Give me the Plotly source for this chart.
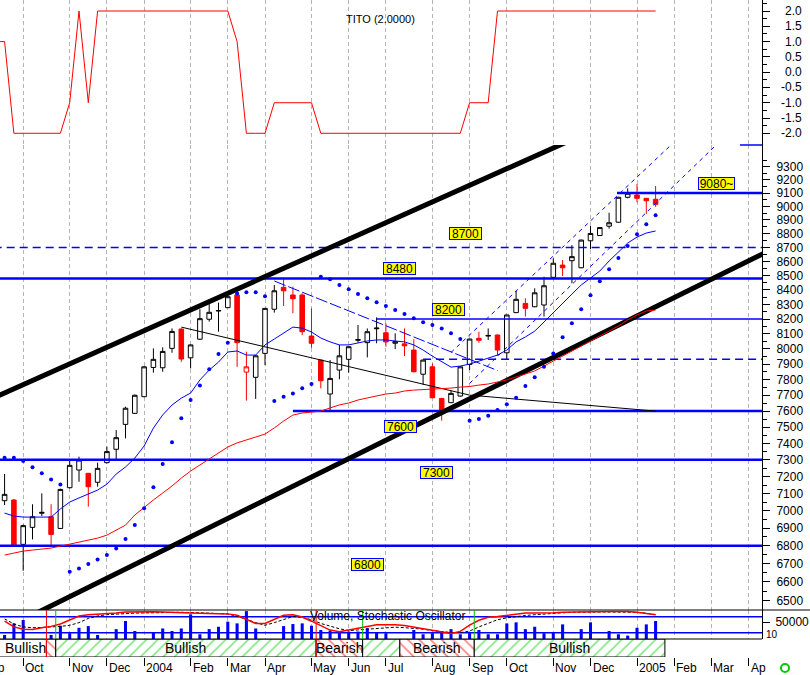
import math
import pandas as pd
import plotly.graph_objects as go

FONT = "Liberation Sans, Arial, Helvetica, sans-serif"

# ---------------- data ----------------
week_dates = pd.date_range("2003-09-19", periods=71, freq="7D")
tito_dates = pd.date_range("2003-09-12", periods=72, freq="7D")

opens = [7058, 7062, 6808, 6904, 6985, 6965, 6898, 7134, 7239, 7219,
         7166, 7283, 7364, 7517, 7586, 7691, 7879, 7877, 8004, 8133,
         7942, 8065, 8199, 8255, 8278, 8365, 7849, 7815, 7971, 8267,
         8418, 8365, 8365, 8086, 7927, 7708, 7862, 7932, 8058, 8042,
         8135, 8108, 8038, 8034, 7993, 7835, 7883, 7680, 7653, 7695,
         7898, 8071, 8086, 8093, 7975, 8244, 8307, 8284, 8296, 8488,
         8574, 8605, 8555, 8748, 8786, 8854, 8883, 9068, 9085, 9060, 9053]
highs = [7215, 7068, 6920, 7037, 7101, 7037, 7128, 7299, 7319, 7222,
         7283, 7380, 7482, 7628, 7705, 7888, 8004, 8011, 8137, 8137,
         8030, 8267, 8312, 8312, 8388, 8388, 7982, 7960, 8276, 8434,
         8474, 8422, 8377, 8273, 7930, 7927, 8027, 8018, 8160, 8137,
         8212, 8171, 8104, 8137, 8065, 7930, 7905, 7683, 7729, 7886,
         8069, 8115, 8137, 8096, 8231, 8394, 8342, 8411, 8492, 8622,
         8610, 8717, 8756, 8855, 8847, 8953, 9071, 9135, 9168, 9063, 9153]
lows = [7033, 6800, 6661, 6836, 6969, 6804, 6895, 7130, 7169, 7023,
        7140, 7279, 7303, 7431, 7582, 7688, 7845, 7851, 7975, 7916,
        7873, 8060, 8183, 8115, 8275, 7883, 7666, 7677, 7894, 8244,
        8289, 8240, 8093, 8008, 7744, 7607, 7802, 7845, 8042, 7945,
        8038, 8015, 7999, 7954, 7848, 7766, 7682, 7540, 7650, 7692,
        7862, 8042, 8060, 7954, 7932, 8241, 8217, 8281, 8217, 8485,
        8497, 8446, 8552, 8687, 8783, 8836, 8880, 9060, 9030, 8944, 8997]
closes = [7095, 6804, 6914, 6965, 6990, 6864, 7124, 7267, 7299, 7140,
          7249, 7350, 7435, 7618, 7700, 7883, 7932, 7984, 8117, 7934,
          8027, 8203, 8246, 8258, 8353, 8042, 7883, 7955, 8273, 8394,
          8394, 8339, 8115, 8038, 7793, 7808, 7955, 8015, 8062, 8115,
          8139, 8047, 8049, 8021, 7851, 7927, 7684, 7607, 7712, 7883,
          8066, 8058, 8090, 7993, 8228, 8335, 8273, 8380, 8429, 8587,
          8555, 8634, 8753, 8801, 8844, 8879, 9068, 9098, 9060, 9042, 9015]
outline_red_index = 26  # red outlined (hollow) candle

ma_short = [6986, 6969, 6963, 6963, 6963, 6963, 7010, 7050, 7074, 7097,
            7120, 7155, 7215, 7257, 7311, 7384, 7494, 7576, 7638, 7682,
            7714, 7798, 7862, 7914, 7980, 7987, 7960, 7960, 8027, 8066,
            8106, 8146, 8139, 8113, 8073, 8047, 8027, 8027, 8040, 8053,
            8060, 8060, 8053, 8047, 8027, 7993, 7953, 7914, 7881, 7888,
            7901, 7920, 7940, 7960, 7993, 8047, 8080, 8119, 8180, 8241,
            8309, 8371, 8434, 8483, 8532, 8603, 8668, 8731, 8775, 8804, 8819]
ma_long = [6748, 6759, 6770, 6776, 6782, 6787, 6798, 6810, 6821, 6832,
           6843, 6860, 6889, 6917, 6975, 7021, 7062, 7103, 7144, 7191,
           7233, 7269, 7305, 7342, 7378, 7403, 7421, 7439, 7457, 7495,
           7538, 7575, 7588, 7594, 7600, 7620, 7639, 7651, 7670, 7683,
           7695, 7708, 7714, 7727, 7733, 7736, 7739, 7739, 7746, 7752,
           7756, 7765, 7772, 7785, 7798, 7817, 7836, 7856, 7888, 7921,
           7954, 7987, 8020, 8053, 8086, 8119, 8153, 8194, 8228, 8255, 8262]
sar = [7313, 7313, 7293, 7255, 7219, 7183, 7153, 6656, 6674, 6698,
       6724, 6748, 6785, 6838, 6917, 7014, 7136, 7275, 7407, 7555,
       7670, 7763, 7867, 7967, 8042, 8376, 8383, 8383, 8357, 7664,
       7691, 7712, 7744, 7772, 8492, 8474, 8434, 8404, 8371, 8342,
       8315, 8289, 8262, 8235, 8205, 8178, 8160, 8137, 8104, 8066,
       7540, 7550, 7571, 7607, 7643, 7685, 7759, 7815, 7883, 7971,
       8078, 8172, 8267, 8363, 8460, 8544, 8624, 8711, 8795, 8868, 8934]
volume = [12000, 46000, 56000, 0, 0, 12000, 39000, 17000, 33000, 38000,
          12000, 0, 29000, 53000, 23500, 0, 20000, 31000, 23500, 31000,
          72500, 14000, 29000, 36000, 51000, 46000, 82000, 31000, 0, 0,
          38000, 44000, 46000, 39000, 26500, 25000, 20000, 22000, 22000, 32000,
          20000, 17000, 0, 0, 26500, 14000, 17000, 21500, 29000, 14000,
          17000, 26500, 14000, 14000, 46000, 49000, 29000, 36000, 17000, 20000,
          43000, 0, 29000, 49000, 0, 23500, 14000, 10000, 33000, 43000, 53000]
stoch_k = [63.5, 42, 33.5, 32, 39, 44, 53, 67, 83, 88,
           90, 91, 94, 98, 99, 100, 99, 98, 96, 95,
           94, 93, 92, 92, 91, 86, 71, 55, 55, 71,
           86, 88, 79, 63.5, 46, 30, 24, 30, 37, 44,
           50.5, 50.5, 50.5, 47.5, 42, 35, 29, 23, 17.6, 25,
           49, 67, 78, 81, 85, 89, 94, 94, 94, 95,
           97, 98, 99, 100, 100, 100, 100, 100, 97, 93, 88]
stoch_d = [72, 53, 42, 39, 40, 41, 44, 48, 58, 74,
           83, 88, 91, 92, 94, 95, 96, 97, 98, 97,
           96, 95, 94, 92, 91, 81, 71, 58, 48, 58,
           71, 81, 78, 69, 55, 44, 35, 28, 31, 33.5,
           36, 39, 41, 39, 37, 33.5, 28, 24, 21, 20,
           26.5, 42, 55, 69, 76, 81, 85, 88, 91, 93.5,
           95, 97, 98, 98, 98, 98, 98, 98, 97, 93.5, 88]
tito = [1, 1, -2, -2, -2, -2, -2, -2, -1, 2, -1, 2,
        2, 2, 2, 2, 2, 2, 2, 2, 2, 2, 2, 2, 2, 2,
        1, -2, -2, -2, -1, -1, -1, -1, -1,
        -2, -2, -2, -2, -2, -2, -2, -2, -2, -2, -2, -2, -2, -2, -2, -2,
        -1, -1, -1,
        2, 2, 2, 2, 2, 2, 2, 2, 2, 2, 2, 2, 2, 2, 2, 2, 2, 2]

hline_values = [9100, 8700, 8480, 8200, 7932, 7600, 7300, 6800]
hline_starts = ["2004-12-23", None, None, "2004-06-25", "2004-07-30", "2004-04-23", None, None]
hline_widths = [2.5, 1.5, 2.5, 1.5, 1.5, 2.5, 2.5, 2.5]
hline_dashes = ["solid", "8px,5px", "solid", "solid", "8px,5px", "solid", "solid", "solid"]
hline_labels = ["9080~", "8700", "8480", "8200", None, "7600", "7300", "6800"]
label_dates = ["2005-03-08", "2004-08-31", "2004-07-12", "2004-08-18", None, "2004-07-13", "2004-08-09", "2004-06-18"]
label_shift = [10, 14, 10, 10, 0, -15, -13, -19]

channel_upper_dates = ["2003-09-12", "2004-12-10"]
channel_upper_values = [7689, 9608]
channel_lower_dates = ["2003-09-12", "2005-04-15"]
channel_lower_values = [6325, 8670]
rise_upper_dates = ["2004-08-20", "2005-02-08"]
rise_upper_values = [7977, 9531]
rise_lower_dates = ["2004-09-03", "2005-03-14"]
rise_lower_values = [7776, 9533]
fall_dates = ["2004-04-09", "2004-09-24"]
fall_values = [8462, 7859]
trend_dates = ["2004-01-30", "2004-09-03", "2005-01-21"]
trend_values = [8146, 7701, 7600]

month_ticks = ["2003-09-05", "2003-10-03", "2003-11-07", "2003-12-05", "2004-01-02",
               "2004-02-06", "2004-03-05", "2004-04-02", "2004-05-07", "2004-06-04",
               "2004-07-02", "2004-08-06", "2004-09-03", "2004-10-01", "2004-11-05",
               "2004-12-03", "2005-01-07", "2005-02-04", "2005-03-04", "2005-04-01"]
month_labels = ["Sep", "Oct", "Nov", "Dec", "2004", "Feb", "Mar", "Apr", "May", "Jun",
                "Jul", "Aug", "Sep", "Oct", "Nov", "Dec", "2005", "Feb", "Mar", "Ap"]

band_edges = ["2003-09-01", "2003-10-20 12:00", "2003-10-27 12:00", "2004-05-10 12:00",
              "2004-06-14 12:00", "2004-07-12 12:00", "2004-09-06 12:00", "2005-01-28"]
band_kinds = ["plain", "bear", "bull", "bear", "bull", "bear", "bull"]
band_texts = ["Bullish", "Bullish", "Bearish", "Bearish", "Bullish"]
band_text_px = [3, 185, 339, 436, 569]
band_text_anchor = ["left", "center", "center", "center", "center"]
signal_dates = ["2003-10-20 12:00", "2003-10-27 12:00", "2004-05-10 12:00",
                "2004-06-14 12:00", "2004-09-06 12:00"]
signal_colors = ["#ff0000", "#00c000", "#ff0000", "#00c000", "#00c000"]

tito_ticks = [2.0, 1.5, 1.0, 0.5, 0.0, -0.5, -1.0, -1.5, -2.0]
price_ticks = list(range(6500, 9301, 100))

# ---------------- geometry ----------------
PLOT_W, PLOT_H = 762.0, 657.0
X0 = pd.Timestamp("2003-09-15 13:00")
X1 = pd.Timestamp("2005-04-11 02:00")


def py(px):
    return 1 - px / PLOT_H


def pxx(px):
    return px / PLOT_W


def date_to_paper(d):
    return (pd.Timestamp(d) - X0) / (X1 - X0)


fig = go.Figure()

# TITO
fig.add_trace(go.Scatter(x=tito_dates, y=tito, mode="lines",
                         line=dict(color="#ff0000", width=1),
                         xaxis="x", yaxis="y", hoverinfo="skip"))

# candles
o_main = [None if i == outline_red_index else v for i, v in enumerate(opens)]
fig.add_trace(go.Candlestick(
    x=week_dates, open=o_main, high=highs, low=lows, close=closes,
    xaxis="x2", yaxis="y2", whiskerwidth=0,
    increasing=dict(line=dict(color="#000000", width=1), fillcolor="#ffffff"),
    decreasing=dict(line=dict(color="#ff0000", width=1), fillcolor="#ff0000"),
    hoverinfo="skip"))
i = outline_red_index
fig.add_trace(go.Candlestick(
    x=[week_dates[i]], open=[opens[i]], high=[highs[i]], low=[lows[i]], close=[closes[i]],
    xaxis="x2", yaxis="y2", whiskerwidth=0,
    increasing=dict(line=dict(color="#ff0000", width=1), fillcolor="#ffffff"),
    decreasing=dict(line=dict(color="#ff0000", width=1), fillcolor="#ffffff"),
    hoverinfo="skip"))

# horizontal levels
for v, s, w, d in zip(hline_values, hline_starts, hline_widths, hline_dashes):
    fig.add_trace(go.Scatter(x=[s if s else "2003-09-01", "2005-04-30"], y=[v, v],
                             mode="lines", line=dict(color="#0000ff", width=w, dash=d),
                             xaxis="x2", yaxis="y2", hoverinfo="skip"))

# channels and trend lines
fig.add_trace(go.Scatter(x=channel_upper_dates, y=channel_upper_values, mode="lines",
                         line=dict(color="#000000", width=5), xaxis="x2", yaxis="y2", hoverinfo="skip"))
fig.add_trace(go.Scatter(x=channel_lower_dates, y=channel_lower_values, mode="lines",
                         line=dict(color="#000000", width=5), xaxis="x2", yaxis="y2", hoverinfo="skip"))
fig.add_trace(go.Scatter(x=rise_upper_dates, y=rise_upper_values, mode="lines",
                         line=dict(color="#0000ff", width=1, dash="4px,4px"), xaxis="x2", yaxis="y2", hoverinfo="skip"))
fig.add_trace(go.Scatter(x=rise_lower_dates, y=rise_lower_values, mode="lines",
                         line=dict(color="#0000ff", width=1, dash="4px,4px"), xaxis="x2", yaxis="y2", hoverinfo="skip"))
fig.add_trace(go.Scatter(x=fall_dates, y=fall_values, mode="lines",
                         line=dict(color="#0000ff", width=1, dash="12px,3px"), xaxis="x2", yaxis="y2", hoverinfo="skip"))
fig.add_trace(go.Scatter(x=trend_dates, y=trend_values, mode="lines",
                         line=dict(color="#000000", width=1), xaxis="x2", yaxis="y2", hoverinfo="skip"))

# moving averages and SAR
fig.add_trace(go.Scatter(x=week_dates, y=ma_long, mode="lines",
                         line=dict(color="#ff0000", width=1), xaxis="x2", yaxis="y2", hoverinfo="skip"))
fig.add_trace(go.Scatter(x=week_dates, y=ma_short, mode="lines",
                         line=dict(color="#0000ff", width=1), xaxis="x2", yaxis="y2", hoverinfo="skip"))
fig.add_trace(go.Scatter(x=week_dates, y=sar, mode="markers",
                         marker=dict(color="#0000ff", size=4, symbol="circle", line=dict(width=0)),
                         xaxis="x2", yaxis="y2", hoverinfo="skip"))

# volume + stochastic
bar_ms = 2.3 * 86400000
fig.add_trace(go.Bar(x=week_dates, y=volume, width=bar_ms, marker=dict(color="#0000ff", line=dict(width=0)),
                     xaxis="x3", yaxis="y3", hoverinfo="skip"))
for lvl in (80, 20):
    fig.add_trace(go.Scatter(x=["2003-09-01", "2005-04-30"], y=[lvl, lvl], mode="lines",
                             line=dict(color="#0000ff", width=1.5), xaxis="x3", yaxis="y5", hoverinfo="skip"))
fig.add_trace(go.Scatter(x=week_dates, y=stoch_d, mode="lines",
                         line=dict(color="#000000", width=1, dash="3px,2px"), xaxis="x3", yaxis="y5", hoverinfo="skip"))
fig.add_trace(go.Scatter(x=week_dates, y=stoch_k, mode="lines",
                         line=dict(color="#ff0000", width=1.5), xaxis="x3", yaxis="y5", hoverinfo="skip"))

# bullish / bearish band
for k in range(len(band_kinds)):
    a, b = pd.Timestamp(band_edges[k]), pd.Timestamp(band_edges[k + 1])
    center = a + (b - a) / 2
    width_ms = (b - a).total_seconds() * 1000
    kind = band_kinds[k]
    if kind == "plain":
        marker = dict(color="#ffffff", line=dict(color="#000000", width=1))
    else:
        marker = dict(color="#ffffff", line=dict(color="#000000", width=1),
                      pattern=dict(shape="/" if kind == "bull" else "\\",
                                   fgcolor="#00d000" if kind == "bull" else "#ff0000",
                                   bgcolor="#ffffff", size=8, solidity=0.2))
    fig.add_trace(go.Bar(x=[center], y=[1], width=[width_ms], marker=marker,
                         xaxis="x4", yaxis="y4", hoverinfo="skip"))

# ---------------- layout ----------------
xcommon = dict(range=[X0, X1], type="date", showgrid=True, gridcolor="#b4b4b4",
               griddash="4px,3px", gridwidth=1, tickmode="array", tickvals=month_ticks,
               showticklabels=False, ticks="", zeroline=False, showline=False, fixedrange=True)

ycommon = dict(side="right", showline=True, linecolor="#000000", linewidth=1, ticks="outside",
               ticklen=7, tickcolor="#000000", showgrid=False, zeroline=False,
               tickfont=dict(family=FONT, size=12, color="#000000"), fixedrange=True)

annotations = []
shapes = []

annotations.append(dict(text="TITO (2.0000)", x=pxx(380), y=py(11), xref="paper", yref="paper",
                        showarrow=False, font=dict(family=FONT, size=11, color="#000000")))
for t in tito_ticks:
    annotations.append(dict(text=f"{t:.1f}", x=pxx(804), y=t, xref="paper", yref="y",
                            xanchor="right", yanchor="middle", showarrow=False,
                            font=dict(family=FONT, size=12, color="#000000")))

for lab, d, v, sh in zip(hline_labels, label_dates, hline_values, label_shift):
    if lab is None:
        continue
    annotations.append(dict(text=lab, x=d, y=math.log10(v), xref="x2", yref="y2", yshift=sh,
                            showarrow=False, bgcolor="#ffff00", bordercolor="#0000ff",
                            borderwidth=1, borderpad=0, height=11, width=35 if len(lab) > 4 else 31,
                            font=dict(family=FONT, size=12, color="#000000")))

annotations.append(dict(text="Volume, Stochastic Oscillator", x=pxx(308), y=py(616), xref="paper",
                        yref="paper", xanchor="left", yanchor="middle", showarrow=False,
                        font=dict(family=FONT, size=12, color="#000000")))
annotations.append(dict(text="10", x=pxx(764), y=py(634), xref="paper", yref="paper",
                        xanchor="left", yanchor="middle", showarrow=False,
                        font=dict(family=FONT, size=10, color="#000000")))

for txt, p, anc in zip(band_texts, band_text_px, band_text_anchor):
    annotations.append(dict(text=txt, x=pxx(p), y=py(648), xref="paper", yref="paper",
                            xanchor=anc, yanchor="middle", showarrow=False,
                            font=dict(family=FONT, size=14, color="#000000")))

for n, (d, lab) in enumerate(zip(month_ticks, month_labels)):
    annotations.append(dict(text=lab, x=date_to_paper(d), y=py(668), xref="paper", yref="paper",
                            xanchor="left", yanchor="middle", xshift=-5 if n == 0 else 0,
                            showarrow=False, font=dict(family=FONT, size=12, color="#000000")))

# panel separators
shapes.append(dict(type="line", xref="paper", yref="paper", x0=0, x1=810 / PLOT_W,
                   y0=py(610), y1=py(610), line=dict(color="#000000", width=1)))
shapes.append(dict(type="line", xref="paper", yref="paper", x0=0, x1=1,
                   y0=py(639), y1=py(639), line=dict(color="#000000", width=1)))
shapes.append(dict(type="line", xref="paper", yref="paper", x0=0.9711, x1=1,
                   y0=py(145), y1=py(145), line=dict(color="#0000ff", width=1.5)))
for d, c in zip(signal_dates, signal_colors):
    bottom = py(657) if c == "#ff0000" else py(639)
    shapes.append(dict(type="line", xref="x3", yref="paper", x0=d, x1=d, y0=bottom, y1=py(610),
                       line=dict(color=c, width=1)))
shapes.append(dict(type="circle", xref="paper", yref="paper", x0=pxx(781), x1=pxx(789),
                   y0=py(672), y1=py(664), line=dict(color="#00cc00", width=2)))

fig.update_layout(
    width=810, height=675,
    margin=dict(l=0, r=48, t=0, b=18),
    paper_bgcolor="#ffffff", plot_bgcolor="#ffffff",
    showlegend=False, hovermode=False, barmode="overlay",
    font=dict(family=FONT, size=12, color="#000000"),
    xaxis=dict(**xcommon, anchor="y"),
    xaxis2=dict(**xcommon, anchor="y2", rangeslider=dict(visible=False)),
    xaxis3=dict(**xcommon, anchor="y3"),
    xaxis4=dict(range=[X0, X1], type="date", showgrid=False, tickmode="array", tickvals=month_ticks,
                ticks="outside", ticklen=8, tickcolor="#000000", showticklabels=False,
                anchor="y4", zeroline=False, showline=False, fixedrange=True),
    yaxis=dict(**ycommon, domain=[py(145), 1], range=[-2.383, 2.36], tickmode="array",
               tickvals=tito_ticks, showticklabels=False,
               minor=dict(tickvals=[2.25, 1.75, 1.25, 0.75, 0.25, -0.25, -0.75, -1.25, -1.75],
                          ticks="outside", ticklen=4, tickcolor="#000000")),
    yaxis2=dict(**ycommon, domain=[py(610), py(145)], type="log", range=[3.80947, 3.97626],
                tickmode="array", tickvals=price_ticks, ticktext=[str(v) for v in price_ticks],
                ticklabelstandoff=4,
                minor=dict(tickvals=[v + 50 for v in price_ticks], ticks="outside", ticklen=4,
                           tickcolor="#000000")),
    yaxis3=dict(**ycommon, domain=[py(639), py(610)], range=[0, 85294], tickmode="array",
                tickvals=[50000], ticktext=["50000"], ticklabelstandoff=3),
    yaxis5=dict(overlaying="y3", anchor="x3", range=[-3.5, 105.6], visible=False, fixedrange=True),
    yaxis4=dict(domain=[0, py(639)], range=[0, 1], visible=False, fixedrange=True),
    annotations=annotations,
    shapes=shapes,
)

fig.write_html("out.html", config=dict(displayModeBar=False),
               post_script="document.body.style.margin='0px';document.body.style.overflow='hidden';")
